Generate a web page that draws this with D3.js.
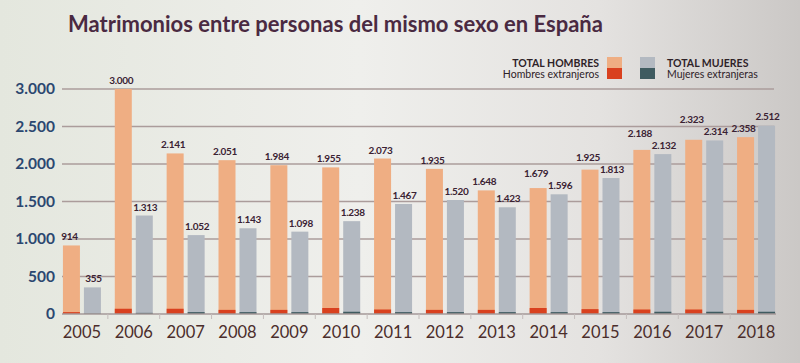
<!DOCTYPE html>
<html>
<head>
<meta charset="utf-8">
<script src="https://cdn.jsdelivr.net/npm/d3@7"></script>
<style>
  body { margin: 0; padding: 0; }
  svg { display: block; }
</style>
</head>
<body>
<svg id="chart"></svg>
<script>
const years = ["2005", "2006", "2007", "2008", "2009", "2010", "2011", "2012", "2013", "2014", "2015", "2016", "2017", "2018"];
const totalHombres = [914, 3000, 2141, 2051, 1984, 1955, 2073, 1935, 1648, 1679, 1925, 2188, 2323, 2358];
const totalMujeres = [355, 1313, 1052, 1143, 1098, 1238, 1467, 1520, 1423, 1596, 1813, 2132, 2314, 2512];
const hombresExtranjeros = [25, 70, 70, 55, 55, 80, 60, 55, 55, 80, 65, 60, 60, 55];
const mujeresExtranjeras = [5, 15, 25, 25, 25, 30, 25, 25, 25, 25, 25, 30, 30, 30];
const yTicks = [0, 500, 1000, 1500, 2000, 2500, 3000];

const width = 800, height = 363;
const colors = { hombres: "#efae83", mujeres: "#b3b9c1", hExt: "#d9411f", mExt: "#3f5b60" };
const fmt = v => d3.format(",")(v).replace(/,/g, ".");

const svg = d3.select("#chart").attr("width", width).attr("height", height);

// background, a bit like the photographed panel
const grad = svg.append("defs").append("linearGradient").attr("id", "bg");
grad.append("stop").attr("offset", "0%").attr("stop-color", "#e4e7de");
grad.append("stop").attr("offset", "45%").attr("stop-color", "#efefec");
grad.append("stop").attr("offset", "75%").attr("stop-color", "#e4e2e0");
grad.append("stop").attr("offset", "100%").attr("stop-color", "#cbc8c6");
svg.append("rect").attr("width", width).attr("height", height).attr("fill", "url(#bg)");

svg.append("text")
   .attr("x", 68).attr("y", 32)
   .attr("font-family", "Lato").attr("font-weight", 700).attr("font-size", 22)
   .attr("fill", "#4a2a42")
   .text("Matrimonios entre personas del mismo sexo en España");

const y = d3.scaleLinear().domain([0, 3000]).range([314, 89]);
const x0 = d3.scaleBand().domain(years).range([56, 782]);
const x1 = d3.scaleBand().domain(["h", "m"]).range([0, x0.bandwidth()])
             .paddingInner(0.19).paddingOuter(0.33);

// gridlines
svg.append("g").selectAll("line")
   .data(yTicks.filter(d => d > 0))
   .enter().append("line")
   .attr("x1", 62).attr("x2", 774)
   .attr("y1", d => y(d)).attr("y2", d => y(d))
   .attr("stroke", "#ab9c9b").attr("stroke-width", 1.5);

svg.append("g").selectAll("text")
   .data(yTicks)
   .enter().append("text")
   .attr("x", 55).attr("y", d => y(d) + 5)
   .attr("text-anchor", "end")
   .attr("font-family", "Lato").attr("font-weight", 700).attr("font-size", 15.5)
   .attr("fill", "#2b4770")
   .text(d => fmt(d));

const groups = svg.append("g").selectAll("g")
   .data(years)
   .enter().append("g")
   .attr("transform", d => `translate(${x0(d)},0)`);

const bar = (g, xKey, vals, col) => g.append("rect")
   .attr("x", x1(xKey))
   .attr("y", d => y(vals[years.indexOf(d)]))
   .attr("width", x1.bandwidth())
   .attr("height", d => y(0) - y(vals[years.indexOf(d)]))
   .attr("fill", col);

bar(groups, "h", totalHombres, colors.hombres);
bar(groups, "m", totalMujeres, colors.mujeres);
bar(groups, "h", hombresExtranjeros, colors.hExt);
bar(groups, "m", mujeresExtranjeras, colors.mExt);

// value labels; when the two labels of a year would collide, lift the lower one
const labelY = (d, key) => {
  const i = years.indexOf(d);
  const yh = y(totalHombres[i]) - 5, ym = y(totalMujeres[i]) - 5;
  if (Math.abs(yh - ym) >= 12) return key === "h" ? yh : ym;
  if (key === "h") return yh <= ym ? Math.min(yh, ym - 12) : yh;
  return ym < yh ? Math.min(ym, yh - 12) : ym;
};

const valueLabel = (g, xKey, vals) => g.append("text")
   .attr("x", x1(xKey) + x1.bandwidth() / 2 + (xKey === "h" ? -2 : 1))
   .attr("y", d => labelY(d, xKey))
   .attr("text-anchor", "middle")
   .attr("font-family", "Lato").attr("font-weight", 700).attr("font-size", 10)
   .attr("letter-spacing", -0.3)
   .attr("fill", "#3a2233")
   .text(d => fmt(vals[years.indexOf(d)]));

valueLabel(groups, "h", totalHombres);
valueLabel(groups, "m", totalMujeres);

// baseline with small separators
svg.append("line")
   .attr("x1", 62).attr("x2", 776)
   .attr("y1", y(0)).attr("y2", y(0))
   .attr("stroke", "#a49898").attr("stroke-width", 1.5);
svg.append("g").selectAll("line")
   .data(years.slice(1))
   .enter().append("line")
   .attr("x1", d => x0(d)).attr("x2", d => x0(d))
   .attr("y1", y(0)).attr("y2", y(0) + 5)
   .attr("stroke", "#c4bcbb").attr("stroke-width", 1);

svg.append("g").selectAll("text")
   .data(years)
   .enter().append("text")
   .attr("x", d => x0(d) + x0.bandwidth() / 2)
   .attr("y", 338)
   .attr("text-anchor", "middle")
   .attr("font-family", "Lato").attr("font-size", 16.5)
   .attr("fill", "#4b2d2b")
   .text(d => d);

// legend
const legend = svg.append("g").attr("font-family", "Lato").attr("font-size", 10.5).attr("fill", "#2e2228");
const legendItems = [
  { label: "TOTAL HOMBRES", color: colors.hombres, x: 607, y: 57, bold: true, anchor: "end", tx: 599 },
  { label: "Hombres extranjeros", color: colors.hExt, x: 607, y: 68, bold: false, anchor: "end", tx: 599 },
  { label: "TOTAL MUJERES", color: colors.mujeres, x: 640, y: 57, bold: true, anchor: "start", tx: 667 },
  { label: "Mujeres extranjeras", color: colors.mExt, x: 640, y: 68, bold: false, anchor: "start", tx: 667 }
];
legend.selectAll("rect")
   .data(legendItems)
   .enter().append("rect")
   .attr("x", d => d.x).attr("y", d => d.y)
   .attr("width", 15).attr("height", 11)
   .attr("fill", d => d.color);
legend.selectAll("text")
   .data(legendItems)
   .enter().append("text")
   .attr("x", d => d.tx).attr("y", d => d.y + 9.5)
   .attr("text-anchor", d => d.anchor)
   .attr("font-weight", d => d.bold ? 700 : 400)
   .text(d => d.label);
</script>
</body>
</html>
